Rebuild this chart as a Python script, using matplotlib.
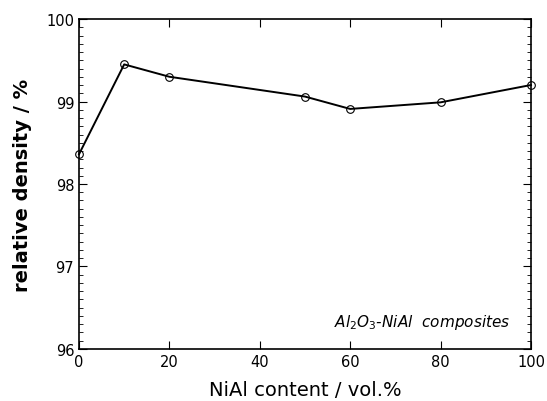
import numpy as np
import matplotlib.pyplot as plt
from matplotlib.ticker import MultipleLocator

nial_content = [0, 10, 20, 50, 60, 80, 100]
rel_density = [98.36, 99.45, 99.30, 99.06, 98.91, 98.99, 99.20]

fig = plt.figure(figsize=(5.47, 4.02), dpi=100)
ax = fig.add_axes([0.1444, 0.1294, 0.8263, 0.8208])

ax.plot(nial_content, rel_density, color='black', lw=1.4, marker='o', ms=5.5,
        mfc='none', mec='black', mew=0.8, clip_on=False, zorder=3)

ax.set_xlim(0, 100)
ax.set_ylim(96, 100)
ax.xaxis.set_major_locator(MultipleLocator(20))
ax.yaxis.set_major_locator(MultipleLocator(1))
ax.yaxis.set_minor_locator(MultipleLocator(0.1))
ax.tick_params(which='both', direction='in', top=True, right=True, labelsize=10.5)
ax.tick_params(which='major', length=6, width=0.8)
ax.tick_params(which='minor', length=3, width=0.6)
for s in ax.spines.values():
    s.set_linewidth(1.2)

ax.set_xlabel('NiAl content / vol.%', fontsize=14, labelpad=8)
ax.set_ylabel('relative density / %', fontsize=14, fontweight='bold', labelpad=10)

ax.text(95.5, 96.33, r'$\mathit{Al}_{\mathit{2}}\mathit{O}_{\mathit{3}}$' + '-NiAl  composites',
        style='italic', fontsize=11, ha='right', va='center')

fig.savefig('out.png', dpi=100)
